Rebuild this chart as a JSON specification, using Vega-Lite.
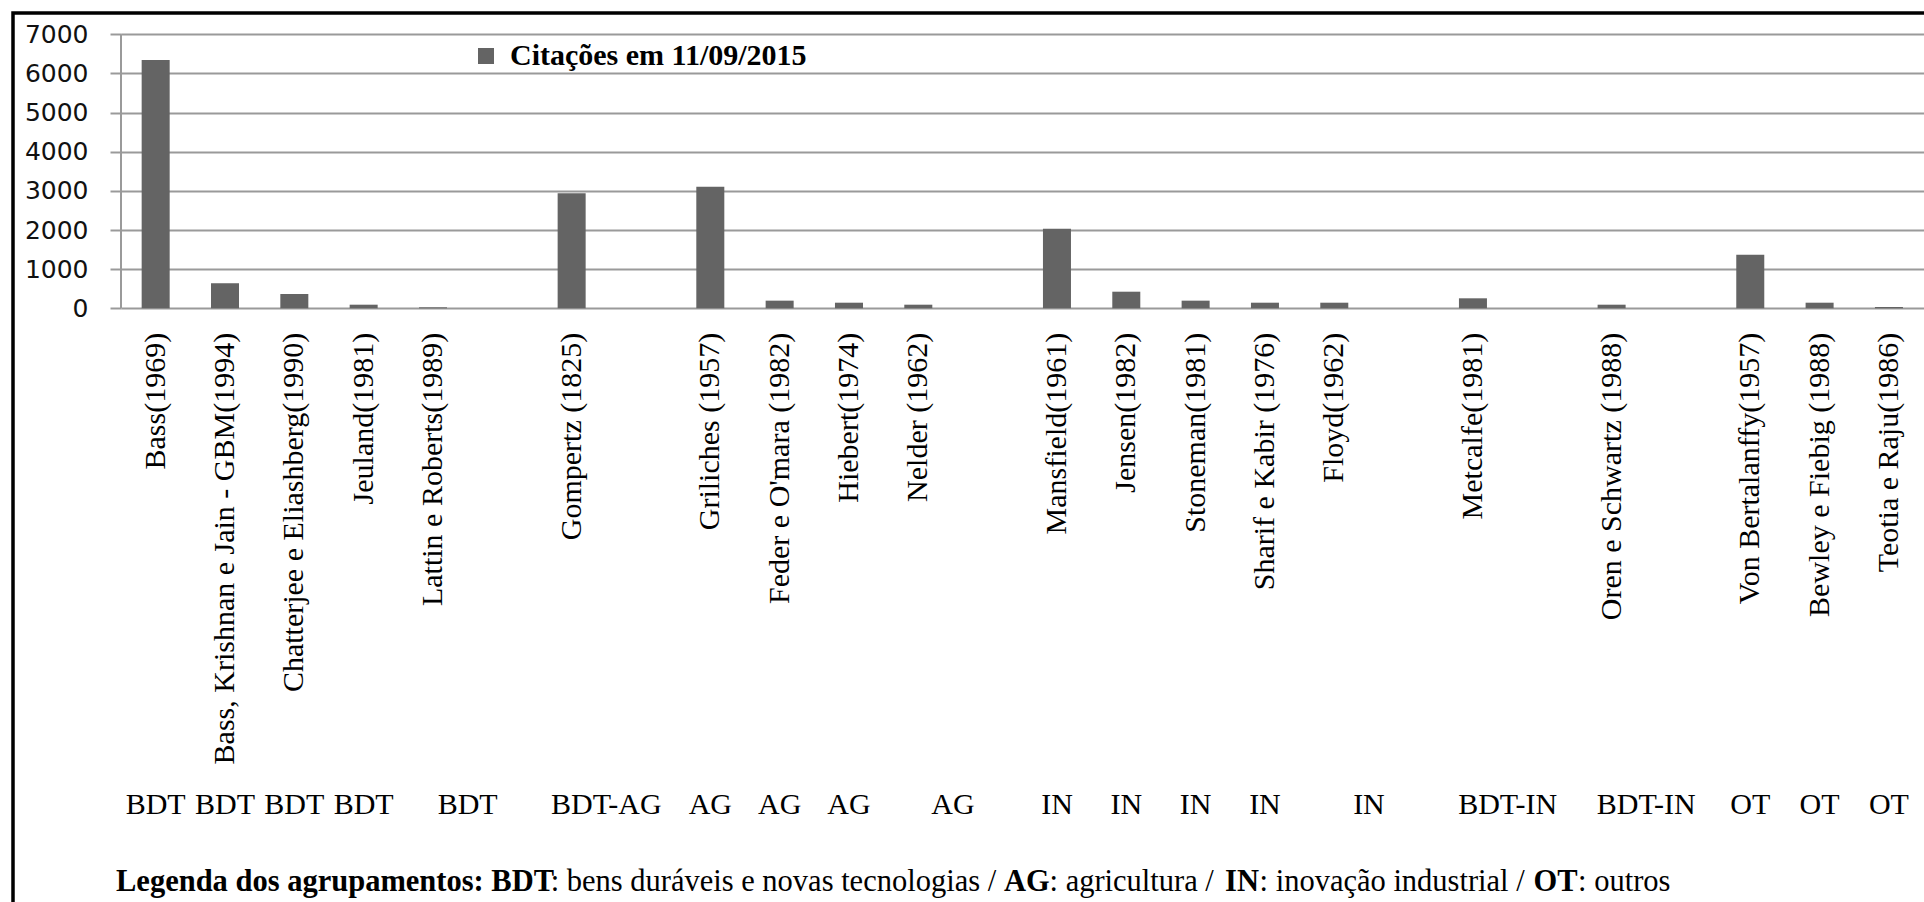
{
  "$schema": "https://vega.github.io/schema/vega-lite/v6.json",
  "autosize": {"type": "none"},
  "padding": {"left": 13, "top": 13, "right": -5, "bottom": -6},
  "width": 1916,
  "height": 895,
  "background": "#ffffff",
  "config": {
    "view": {"stroke": "#000000", "strokeWidth": 3.5, "fill": "#ffffff"}
  },
  "data": {
    "values": [
      {"name": "Bass(1969)", "citacoes": 6345, "grupo": "BDT", "entre": false},
      {"name": "Bass, Krishnan e Jain - GBM(1994)", "citacoes": 640, "grupo": "BDT", "entre": false},
      {"name": "Chatterjee e Eliashberg(1990)", "citacoes": 365, "grupo": "BDT", "entre": false},
      {"name": "Jeuland(1981)", "citacoes": 92, "grupo": "BDT", "entre": false},
      {"name": "Lattin e Roberts(1989)", "citacoes": 25, "grupo": "BDT", "entre": true},
      {"name": " ", "citacoes": null, "grupo": null, "entre": false},
      {"name": "Gompertz (1825)", "citacoes": 2938, "grupo": "BDT-AG", "entre": true},
      {"name": "  ", "citacoes": null, "grupo": null, "entre": false},
      {"name": "Griliches (1957)", "citacoes": 3105, "grupo": "AG", "entre": false},
      {"name": "Feder e O'mara (1982)", "citacoes": 195, "grupo": "AG", "entre": false},
      {"name": "Hiebert(1974)", "citacoes": 143, "grupo": "AG", "entre": false},
      {"name": "Nelder (1962)", "citacoes": 92, "grupo": "AG", "entre": true},
      {"name": "   ", "citacoes": null, "grupo": null, "entre": false},
      {"name": "Mansfield(1961)", "citacoes": 2035, "grupo": "IN", "entre": false},
      {"name": "Jensen(1982)", "citacoes": 424, "grupo": "IN", "entre": false},
      {"name": "Stoneman(1981)", "citacoes": 195, "grupo": "IN", "entre": false},
      {"name": "Sharif e Kabir (1976)", "citacoes": 143, "grupo": "IN", "entre": false},
      {"name": "Floyd(1962)", "citacoes": 143, "grupo": "IN", "entre": true},
      {"name": "    ", "citacoes": null, "grupo": null, "entre": false},
      {"name": "Metcalfe(1981)", "citacoes": 255, "grupo": "BDT-IN", "entre": true},
      {"name": "     ", "citacoes": null, "grupo": null, "entre": false},
      {"name": "Oren e Schwartz (1988)", "citacoes": 92, "grupo": "BDT-IN", "entre": true},
      {"name": "      ", "citacoes": null, "grupo": null, "entre": false},
      {"name": "Von Bertalanffy(1957)", "citacoes": 1370, "grupo": "OT", "entre": false},
      {"name": "Bewley e Fiebig (1988)", "citacoes": 143, "grupo": "OT", "entre": false},
      {"name": "Teotia e Raju(1986)", "citacoes": 33, "grupo": "OT", "entre": false}
    ]
  },
  "layer": [
    {
      "mark": {"type": "bar", "width": {"band": 0.404}, "invalid": null},
      "encoding": {
        "x": {
          "field": "name", "type": "nominal", "sort": null, "title": null,
          "scale": {"type": "band", "range": [108, 1910.6], "paddingInner": 0, "paddingOuter": 0},
          "axis": {
            "orient": "bottom", "offset": -599.7, "domain": false, "ticks": false, "grid": false,
            "labelAngle": -90, "labelFont": "Liberation Serif", "labelFontSize": 30,
            "labelColor": "#000000", "labelPadding": 24, "labelLimit": 0, "labelOverlap": false
          }
        },
        "y": {
          "field": "citacoes", "type": "quantitative", "title": null,
          "scale": {"domain": [-15321, 7544], "nice": false, "zero": false},
          "axis": {
            "values": [0, 1000, 2000, 3000, 4000, 5000, 6000, 7000], "format": "d",
            "offset": -108, "domain": false,
            "grid": true, "gridColor": "#9a9a9a", "gridWidth": 2,
            "ticks": true, "tickSize": 11, "tickColor": "#9a9a9a", "tickWidth": 2,
            "labelFont": "DejaVu Sans", "labelFontSize": 25, "labelColor": "#111111", "labelPadding": 22
          }
        },
        "y2": {"datum": 0},
        "color": {
          "datum": "Citações em 11/09/2015",
          "scale": {"range": ["#646464"]},
          "legend": {
            "title": null, "orient": "none", "legendX": 458, "legendY": 28,
            "symbolType": "square", "symbolSize": 256, "symbolStrokeWidth": 0,
            "labelFont": "Liberation Serif", "labelFontSize": 30, "labelFontWeight": "bold",
            "labelColor": "#000000", "labelOffset": 9, "padding": 0, "labelLimit": 0
          }
        }
      }
    },
    {
      "transform": [{"filter": "datum.name === 'Bass(1969)'"}],
      "mark": {"type": "rule", "color": "#9a9a9a", "strokeWidth": 2},
      "encoding": {
        "x": {"field": "name", "type": "nominal", "sort": null, "bandPosition": 0, "title": null},
        "y": {"datum": 0},
        "y2": {"datum": 7000}
      }
    },
    {
      "transform": [{"filter": "datum.grupo != null && !datum.entre"}],
      "mark": {"type": "text", "font": "Liberation Serif", "fontSize": 30, "color": "#000000", "baseline": "alphabetic", "align": "center"},
      "encoding": {
        "x": {"field": "name", "type": "nominal", "sort": null, "bandPosition": 0.5, "title": null},
        "y": {"datum": -12919},
        "text": {"field": "grupo"}
      }
    },
    {
      "transform": [{"filter": "datum.entre"}],
      "mark": {"type": "text", "font": "Liberation Serif", "fontSize": 30, "color": "#000000", "baseline": "alphabetic", "align": "center"},
      "encoding": {
        "x": {"field": "name", "type": "nominal", "sort": null, "bandPosition": 1, "title": null},
        "y": {"datum": -12919},
        "text": {"field": "grupo"}
      }
    },
    {
      "transform": [{"filter": "datum.name === 'Bass(1969)'"}],
      "mark": {
        "type": "text", "font": "Liberation Serif", "fontSize": 30.5, "fontWeight": "bold", "color": "#000000",
        "baseline": "alphabetic", "align": "left", "dx": -5,
        "text": "Legenda dos agrupamentos: BDT\u00a0\u00a0\u00a0\u00a0\u00a0\u00a0\u00a0\u00a0\u00a0\u00a0\u00a0\u00a0\u00a0\u00a0\u00a0\u00a0\u00a0\u00a0\u00a0\u00a0\u00a0\u00a0\u00a0\u00a0\u00a0\u00a0\u00a0\u00a0\u00a0\u00a0\u00a0\u00a0\u00a0\u00a0\u00a0\u00a0\u00a0\u00a0\u00a0\u00a0\u00a0\u00a0\u00a0\u00a0\u00a0\u00a0\u00a0\u00a0\u00a0\u00a0\u00a0\u00a0\u00a0\u00a0\u00a0\u00a0\u00a0\u00a0\u00a0AG\u00a0\u00a0\u00a0\u00a0\u00a0\u00a0\u00a0\u00a0\u00a0\u00a0\u00a0\u00a0\u00a0\u00a0\u00a0\u00a0\u00a0\u00a0\u00a0\u00a0\u00a0\u00a0\u00a0IN\u00a0\u00a0\u00a0\u00a0\u00a0\u00a0\u00a0\u00a0\u00a0\u00a0\u00a0\u00a0\u00a0\u00a0\u00a0\u00a0\u00a0\u00a0\u00a0\u00a0\u00a0\u00a0\u00a0\u00a0\u00a0\u00a0\u00a0\u00a0\u00a0\u00a0\u00a0\u00a0\u00a0\u00a0\u00a0\u00a0OT"
      },
      "encoding": {
        "x": {"field": "name", "type": "nominal", "sort": null, "bandPosition": 0, "title": null},
        "y": {"datum": -14887}
      }
    },
    {
      "transform": [{"filter": "datum.name === 'Bass(1969)'"}],
      "mark": {
        "type": "text", "font": "Liberation Serif", "fontSize": 30.5, "color": "#000000",
        "baseline": "alphabetic", "align": "left", "dx": -5,
        "text": "\u200b\u00a0\u00a0\u00a0\u00a0\u00a0\u00a0\u00a0\u00a0\u00a0\u00a0\u00a0\u00a0\u00a0\u00a0\u00a0\u00a0\u00a0\u00a0\u00a0\u00a0\u00a0\u00a0\u00a0\u00a0\u00a0\u00a0\u00a0\u00a0\u00a0\u00a0\u00a0\u00a0\u00a0\u00a0\u00a0\u00a0\u00a0\u00a0\u00a0\u00a0\u00a0\u00a0\u00a0\u00a0\u00a0\u00a0\u00a0\u00a0\u00a0\u00a0\u00a0\u00a0\u00a0\u00a0\u00a0\u00a0\u00a0: bens duráveis e novas tecnologias / \u00a0\u00a0\u00a0\u00a0\u00a0\u00a0: agricultura / \u00a0\u00a0\u00a0\u00a0\u00a0: inovação industrial / \u00a0\u00a0\u00a0\u00a0\u00a0\u00a0: outros"
      },
      "encoding": {
        "x": {"field": "name", "type": "nominal", "sort": null, "bandPosition": 0, "title": null},
        "y": {"datum": -14887}
      }
    }
  ]
}
